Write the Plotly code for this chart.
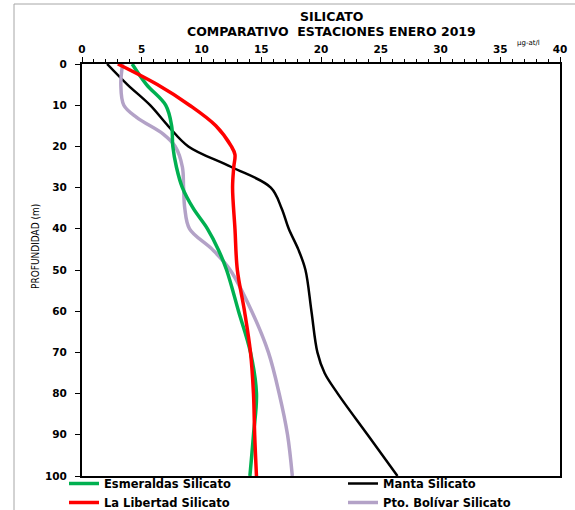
import plotly.graph_objects as go

# Silicate profiles (µg-at/l) versus depth (m), January 2019
esmeraldas_depth = [0, 5, 10, 15, 20, 25, 30, 35, 40, 45, 50, 60, 70, 80, 90, 100]
esmeraldas_sil = [4.2, 5.4, 7.0, 7.5, 7.6, 7.9, 8.4, 9.3, 10.5, 11.4, 12.1, 13.1, 14.1, 14.6, 14.35, 14.05]

manta_depth = [0, 5, 10, 15, 20, 25, 30, 35, 40, 45, 50, 60, 70, 75, 80, 90, 100]
manta_sil = [2.1, 3.8, 5.7, 7.2, 8.9, 12.5, 15.8, 16.7, 17.3, 18.1, 18.7, 19.2, 19.7, 20.3, 21.4, 23.9, 26.4]

libertad_depth = [0, 5, 10, 15, 20, 22, 25, 30, 40, 50, 60, 70, 80, 90, 100]
libertad_sil = [3.0, 6.3, 9.0, 11.2, 12.5, 12.8, 12.7, 12.6, 12.8, 13.0, 13.6, 14.1, 14.35, 14.45, 14.6]

bolivar_depth = [0, 5, 10, 13, 17, 20, 25, 30, 35, 40, 45, 50, 60, 70, 80, 90, 100]
bolivar_sil = [3.4, 3.25, 3.5, 4.6, 6.8, 7.8, 8.4, 8.5, 8.6, 9.0, 10.9, 12.4, 14.2, 15.6, 16.5, 17.2, 17.6]

x_ticks = [0, 5, 10, 15, 20, 25, 30, 35, 40]
y_ticks = [0, 10, 20, 30, 40, 50, 60, 70, 80, 90, 100]

BOLD = dict(family="DejaVu Sans", weight=700, color="black")

# plot-area geometry in pixels, used to place text outside the axes
W, H = 575, 510
ML, MR, MT, MB = 82, 15, 64, 34
PW, PH = W - ML - MR, H - MT - MB


def px_x(px):
    return (px - ML) / PW


def px_y(py):
    return (H - MB - py) / PH


fig = go.Figure()

# (name, values, depths, colour, width, legend column); drawn in this order
series = [
    ("Manta Silicato", manta_sil, manta_depth, "#000000", 2.5, "legend2"),
    ("Pto. Bolívar Silicato", bolivar_sil, bolivar_depth, "#B3A2C7", 3.5, "legend2"),
    ("Esmeraldas Silicato", esmeraldas_sil, esmeraldas_depth, "#00B050", 3.5, "legend"),
    ("La Libertad Silicato", libertad_sil, libertad_depth, "#FF0000", 3.5, "legend"),
]
for name, xs, ys, color, width, leg in series:
    fig.add_trace(go.Scatter(
        x=xs, y=ys, name=name, mode="lines",
        line=dict(color=color, width=width, shape="spline", smoothing=1),
        legend=leg,
    ))

legend_style = dict(
    xanchor="left", yanchor="top", orientation="v",
    font=dict(size=11.5, **BOLD),
    bgcolor="rgba(0,0,0,0)", borderwidth=0, itemwidth=30,
    traceorder="normal",
)

fig.update_layout(
    width=W, height=H,
    margin=dict(l=ML, r=MR, t=MT, b=MB, autoexpand=False),
    paper_bgcolor="white", plot_bgcolor="white",
    template=None,
    showlegend=True,
    legend=dict(x=px_x(64), y=px_y(469), **legend_style),
    legend2=dict(x=px_x(343), y=px_y(469), **legend_style),
    xaxis=dict(
        side="top", range=[0, 40], tickvals=x_ticks,
        ticks="outside", ticklen=5, tickwidth=1, tickcolor="black",
        minor=dict(dtick=1, ticks="outside", ticklen=3, tickcolor="black"),
        showline=True, linecolor="black", linewidth=1.5, mirror=True,
        showgrid=False, zeroline=False, automargin=False,
        tickfont=dict(size=10.5, **BOLD),
    ),
    yaxis=dict(
        range=[100, 0], tickvals=y_ticks,
        ticks="outside", ticklen=5, tickwidth=1, tickcolor="black",
        ticklabelstandoff=6,
        showline=True, linecolor="black", linewidth=2, mirror=True,
        showgrid=False, zeroline=False, automargin=False,
        tickfont=dict(size=10.5, **BOLD),
    ),
    annotations=[
        dict(text="SILICATO", x=px_x(331), y=px_y(16.5), xref="paper", yref="paper",
             showarrow=False, xanchor="center", yanchor="middle",
             font=dict(size=12.5, **BOLD)),
        dict(text="COMPARATIVO  ESTACIONES ENERO 2019", x=px_x(331), y=px_y(31.5),
             xref="paper", yref="paper", showarrow=False,
             xanchor="center", yanchor="middle", font=dict(size=12.5, **BOLD)),
        dict(text="µg-at/l", x=px_x(528), y=px_y(43), xref="paper", yref="paper",
             showarrow=False, xanchor="center", yanchor="middle",
             font=dict(size=7, family="DejaVu Sans", color="black")),
        dict(text="PROFUNDIDAD (m)", x=px_x(35), y=px_y(247), xref="paper", yref="paper",
             showarrow=False, textangle=-90, xanchor="center", yanchor="middle",
             font=dict(size=10, family="Liberation Sans Narrow, DejaVu Sans Condensed, sans-serif",
                       color="black")),
    ],
    shapes=[
        # outer chart frame (top and left edges)
        dict(type="line", xref="paper", yref="paper",
             x0=px_x(14), x1=px_x(W + 5), y0=px_y(4), y1=px_y(4),
             line=dict(color="#A6A6A6", width=1)),
        dict(type="line", xref="paper", yref="paper",
             x0=px_x(14), x1=px_x(14), y0=px_y(4), y1=px_y(H + 5),
             line=dict(color="#A6A6A6", width=1)),
    ],
)

fig.write_html("out.html")
